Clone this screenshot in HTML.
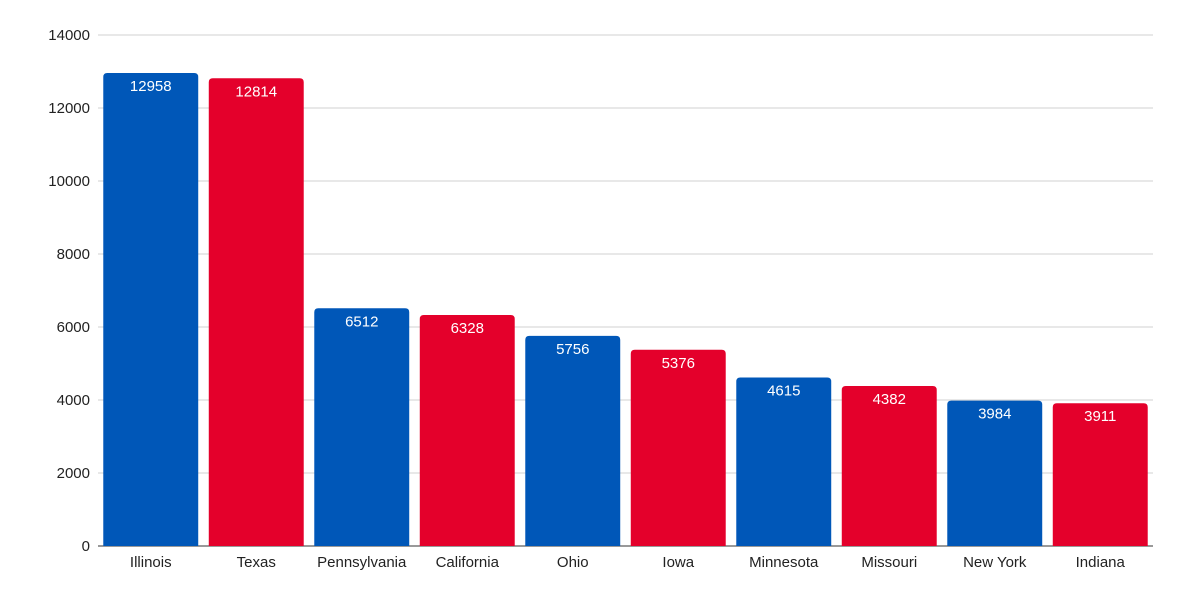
<!DOCTYPE html>
<html><head><meta charset="utf-8"><style>
html,body{margin:0;padding:0;background:#fff;}
svg{display:block;font-family:"Liberation Sans",Arial,sans-serif;}
</style></head><body>
<svg id="chart" width="1200" height="600" viewBox="0 0 1200 600"></svg>
<script>
const categories=["Illinois","Texas","Pennsylvania","California","Ohio","Iowa","Minnesota","Missouri","New York","Indiana"];
const values=[12958,12814,6512,6328,5756,5376,4615,4382,3984,3911];
const yTicks=[0,2000,4000,6000,8000,10000,12000,14000];
const colorsByIndex=["#0057b8","#e4002b"];
const NS="http://www.w3.org/2000/svg";
const svgEl=document.getElementById("chart");
const plotLeft=98,plotRight=1153,plotTop=35,plotBottom=546,yMax=14000;
const band=(plotRight-plotLeft)/categories.length;
const barW=band*0.9;
function yScale(v){return plotBottom-(v/yMax)*(plotBottom-plotTop);}
function xScale(i){return plotLeft+band*i+(band-barW)/2;}
function mk(tag,attrs){const e=document.createElementNS(NS,tag);for(const k in attrs)e.setAttribute(k,attrs[k]);svgEl.appendChild(e);return e;}
yTicks.forEach(t=>{
  const g=mk("line",{x1:plotLeft,x2:plotRight,y1:yScale(t),y2:yScale(t),stroke:t===0?"#333":"#d0d0d0","stroke-width":1});
  
  
  const l=mk("text",{x:90,y:yScale(t)+5,"text-anchor":"end","font-size":15,fill:"#222"});
  l.textContent=t;
  
  
});
values.forEach((v,i)=>{
  const x0=xScale(i),y0=yScale(v),r=4;
  const p=mk("path",{d:`M${x0},${plotBottom}V${y0+r}Q${x0},${y0} ${x0+r},${y0}H${x0+barW-r}Q${x0+barW},${y0} ${x0+barW},${y0+r}V${plotBottom}Z`,fill:colorsByIndex[i%2]});
  
  
  const vt=mk("text",{x:x0+barW/2,y:y0+18,"text-anchor":"middle","font-size":15,fill:"#fff"});
  vt.textContent=v;
  
  
  const ct=mk("text",{x:x0+barW/2,y:567,"text-anchor":"middle","font-size":15,fill:"#222"});
  ct.textContent=categories[i];
  
  
});
</script>
</body></html>
